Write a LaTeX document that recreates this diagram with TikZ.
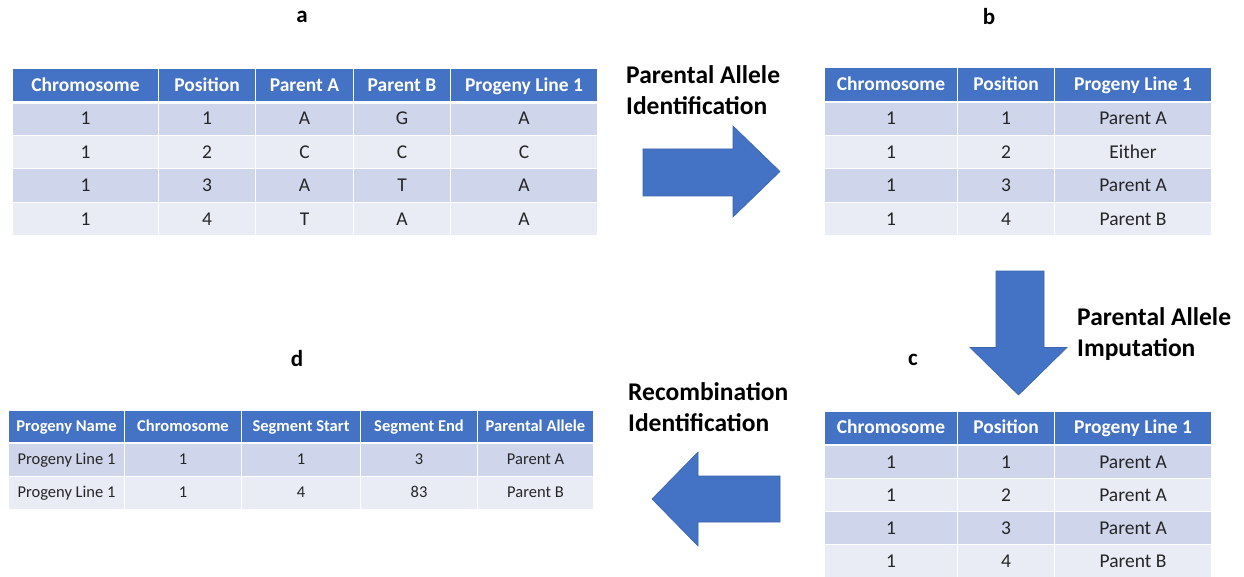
\documentclass[tikz,border=0pt]{standalone}
\usepackage{fontspec}
\setmainfont{Carlito}
\definecolor{hdr}{HTML}{4472C4}
\definecolor{bandA}{HTML}{CFD5EA}
\definecolor{bandB}{HTML}{E9EBF5}
\definecolor{arrowedge}{HTML}{3B64AD}
\newcommand\tabrow[4]{%
  \foreach \xa/\xb/\txt [count=\i] in {#4} {%
    \node[#3, minimum width={(\xb-\xa)*1pt}] (#1-\i) at (\xa,#2) {\txt};
  }}
\begin{document}
\begin{tikzpicture}[x=1pt,y=-1pt,
  cellbase/.style={rectangle, draw=white, line width=1pt, inner sep=0pt, anchor=north west},
  bigfont/.style={font=\fontsize{19.5}{22}\selectfont, text height=15pt, text depth=3pt},
  smallfont/.style={font=\fontsize{16.5}{19}\selectfont, text height=12pt, text depth=3pt},
  hdrcell/.style={cellbase, fill=hdr, text=white, minimum height=33.5pt, bigfont, font=\bfseries\fontsize{19.5}{22}\selectfont},
  darkcell/.style={cellbase, fill=bandA, text=black!85, minimum height=33.5pt, bigfont},
  lightcell/.style={cellbase, fill=bandB, text=black!85, minimum height=33.5pt, bigfont},
  hdrcellS/.style={cellbase, fill=hdr, text=white, minimum height=32pt, smallfont, font=\bfseries\fontsize{16.5}{19}\selectfont},
  darkcellS/.style={cellbase, fill=bandA, text=black!85, minimum height=33pt, smallfont},
  lightcellS/.style={cellbase, fill=bandB, text=black!85, minimum height=33pt, smallfont},
  gap/.style={white, line width=2.5pt},
  panel/.style={font=\bfseries\fontsize{23}{26}\selectfont},
  steplbl/.style={anchor=west, align=left, inner sep=0pt, font=\bfseries\fontsize{25.5}{30.5}\selectfont},
  blockarrow/.style={fill=hdr, draw=arrowedge, line width=0.6pt, line join=miter}
]
\useasboundingbox (0,0) rectangle (1244,577);

% ---- Table a ----
\tabrow{ah}{68}{hdrcell}{12/158/Chromosome, 158/255/Position, 255/353/Parent A, 353/450/Parent B, 450/597/Progeny Line 1}
\tabrow{a1}{101.5}{darkcell}{12/158/1, 158/255/1, 255/353/A, 353/450/G, 450/597/A}
\tabrow{a2}{135}{lightcell}{12/158/1, 158/255/2, 255/353/C, 353/450/C, 450/597/C}
\tabrow{a3}{168.5}{darkcell}{12/158/1, 158/255/3, 255/353/A, 353/450/T, 450/597/A}
\tabrow{a4}{202}{lightcell}{12/158/1, 158/255/4, 255/353/T, 353/450/A, 450/597/A}
\draw[gap] (ah-1.south west) -- (ah-5.south east);

% ---- Table b ----
\tabrow{bh}{67.5}{hdrcell}{824/957/Chromosome, 957/1054/Position, 1054/1211/Progeny Line 1}
\tabrow{b1}{101.5}{darkcell}{824/957/1, 957/1054/1, 1054/1211/Parent A}
\tabrow{b2}{135}{lightcell}{824/957/1, 957/1054/2, 1054/1211/Either}
\tabrow{b3}{168.5}{darkcell}{824/957/1, 957/1054/3, 1054/1211/Parent A}
\tabrow{b4}{202}{lightcell}{824/957/1, 957/1054/4, 1054/1211/Parent B}
\draw[gap] (bh-1.south west) -- (bh-3.south east);

% ---- Table c ----
\tabrow{ch}{410.5}{hdrcell}{824/957/Chromosome, 957/1054/Position, 1054/1211/Progeny Line 1}
\tabrow{c1}{445}{darkcell}{824/957/1, 957/1054/1, 1054/1211/Parent A}
\tabrow{c2}{478}{lightcell}{824/957/1, 957/1054/2, 1054/1211/Parent A}
\tabrow{c3}{511}{darkcell}{824/957/1, 957/1054/3, 1054/1211/Parent A}
\tabrow{c4}{544}{lightcell}{824/957/1, 957/1054/4, 1054/1211/Parent B}
\draw[gap] (ch-1.south west) -- (ch-3.south east);

% ---- Table d ----
\tabrow{dh}{410}{hdrcellS}{8/124/Progeny Name, 124/241/Chromosome, 241/360/Segment Start, 360/477/Segment End, 477/593/Parental Allele}
\tabrow{d1}{442.5}{darkcellS}{8/124/Progeny Line 1, 124/241/1, 241/360/1, 360/477/3, 477/593/Parent A}
\tabrow{d2}{475.5}{lightcellS}{8/124/Progeny Line 1, 124/241/1, 241/360/4, 360/477/83, 477/593/Parent B}
\draw[gap] (dh-1.south west) -- (dh-5.south east);

% ---- panel letters ----
\node[panel] (pa) at (302,17) {a};
\node[panel] (pb) at (989,17) {b};
\node[panel] (pc) at (913,360) {c};
\node[panel] (pd) at (297,359) {d};

% ---- step labels ----
\node[steplbl] (s1) at (626,90) {Parental Allele\\Identification};
\node[steplbl] (s2) at (1077,334) {Parental Allele\\Imputation};
\node[steplbl] (s3) at (628,407) {Recombination\\Identification};

% ---- block arrows ----
\draw[blockarrow] (643,149) -- (733,149) -- (733,126) -- (780,171.5) -- (733,217) -- (733,196) -- (643,196) -- cycle;
\draw[blockarrow] (996,271) -- (1044,271) -- (1044,347.5) -- (1067,347.5) -- (1018.5,395) -- (970,347.5) -- (996,347.5) -- cycle;
\draw[blockarrow] (780,476) -- (698,476) -- (698,452) -- (652,499) -- (698,546) -- (698,522) -- (780,522) -- cycle;
\end{tikzpicture}
\end{document}
